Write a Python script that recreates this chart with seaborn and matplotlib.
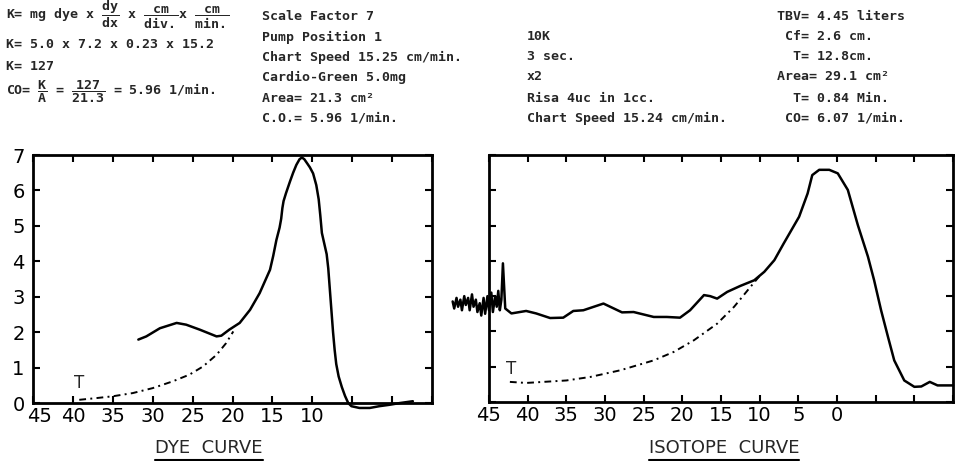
import matplotlib
matplotlib.use("Agg")
import matplotlib.pyplot as plt
from matplotlib.lines import Line2D
from matplotlib.transforms import ScaledTranslation
import pandas as pd
import seaborn as sns

# ---- data ----
dye_x = [31.8, 30.8, 29.1, 27.0, 25.8, 24.1, 22.0, 21.4, 20.4, 19.1, 17.8, 16.6,
         15.3, 14.9, 14.5, 14.1, 13.9, 13.75, 13.6, 13.3, 12.8, 12.4, 12.0, 11.6,
         11.3, 11.0, 10.6, 10.3, 9.9, 9.5, 9.2, 9.0, 8.8, 8.5, 8.2, 8.0, 7.8, 7.6,
         7.4, 7.2, 7.0, 6.7, 6.3, 5.9, 5.5, 5.1, 4.1, 2.8, 1.6, 0.3, -1.0, -2.6]
dye_y = [1.79, 1.88, 2.11, 2.26, 2.21, 2.07, 1.88, 1.90, 2.07, 2.26, 2.63, 3.10,
         3.76, 4.15, 4.60, 4.95, 5.20, 5.50, 5.70, 5.92, 6.25, 6.50, 6.72, 6.88,
         6.93, 6.88, 6.75, 6.65, 6.48, 6.15, 5.75, 5.30, 4.80, 4.50, 4.20, 3.80, 3.20, 2.60,
         2.00, 1.50, 1.10, 0.75, 0.45, 0.20, 0.00, -0.09, -0.14, -0.14, -0.09, -0.05, 0.0, 0.05]
dye_extrap_x = [39.2, 37.0, 35.0, 32.5, 30.0, 27.5, 25.4, 23.7, 22.0, 20.8, 19.9]
dye_extrap_y = [0.09, 0.14, 0.19, 0.28, 0.42, 0.61, 0.80, 1.03, 1.36, 1.69, 2.02]

iso_x = [49.7, 49.5, 49.2, 49.0, 48.7, 48.5, 48.2, 48.0, 47.7, 47.5, 47.2, 47.0,
         46.7, 46.5, 46.2, 46.0, 45.7, 45.5, 45.2, 45.0, 44.7, 44.5, 44.2, 44.0,
         43.8, 43.6, 43.4, 43.2, 42.9, 42.1, 40.2, 38.9, 37.1, 35.4, 34.1, 32.8,
         30.2, 27.8, 26.3, 23.7, 22.0, 20.3, 19.0, 17.2, 16.4, 15.5, 14.2, 12.5,
         10.7, 9.4, 8.1, 6.9, 4.9, 3.8, 3.2, 2.3, 1.0, -0.1, -1.4, -2.7, -4.0,
         -4.8, -5.7, -6.6, -7.4, -8.7, -10.0, -10.9, -12.0, -13.0, -15.0]
iso_y = [2.85, 2.65, 2.95, 2.70, 2.90, 2.60, 3.00, 2.75, 2.95, 2.60, 3.05, 2.70,
         2.90, 2.55, 2.80, 2.45, 2.95, 2.50, 3.00, 2.60, 3.10, 2.55, 3.00, 2.70,
         3.15, 2.60, 2.90, 3.93, 2.65, 2.51, 2.58, 2.51, 2.38, 2.39, 2.58, 2.60,
         2.79, 2.54, 2.55, 2.41, 2.41, 2.39, 2.60, 3.03, 3.00, 2.93, 3.12, 3.29,
         3.45, 3.69, 4.02, 4.49, 5.25, 5.91, 6.43, 6.58, 6.58, 6.48, 6.01, 5.01, 4.12,
         3.45, 2.60, 1.84, 1.18, 0.61, 0.43, 0.44, 0.57, 0.47, 0.47]
iso_extrap_x = [42.3, 40.2, 35.0, 31.9, 28.0, 23.7, 21.1, 18.5, 15.5, 13.3, 11.2, 9.9]
iso_extrap_y = [0.57, 0.54, 0.61, 0.71, 0.90, 1.18, 1.42, 1.75, 2.22, 2.70, 3.26, 3.60]

dye_xticks = [45, 40, 35, 30, 25, 20, 15, 10, 5, 0, -5]
dye_xlabels = ["45", "40", "35", "30", "25", "20", "15", "10", "", "", ""]
iso_xticks = [45, 40, 35, 30, 25, 20, 15, 10, 5, 0, -5, -10, -15]
iso_xlabels = ["45", "40", "35", "30", "25", "20", "15", "10", "5", "0", "", "", ""]
yticks = [0, 1, 2, 3, 4, 5, 6, 7]

header_cols = [
    (6, [(15, r"K= mg dye x $\dfrac{\mathrm{dy}}{\mathrm{dx}}$ x $\dfrac{\mathrm{cm}}{\mathrm{div.}}$x $\dfrac{\mathrm{cm}}{\mathrm{min.}}$"),
         (45, "K= 5.0 x 7.2 x 0.23 x 15.2"),
         (66, "K= 127"),
         (92, r"CO= $\dfrac{\mathrm{K}}{\mathrm{A}}$ = $\dfrac{\mathrm{127}}{\mathrm{21.3}}$ = 5.96 1/min.")]),
    (262, [(17, "Scale Factor 7"), (37, "Pump Position 1"),
           (57, "Chart Speed 15.25 cm/min."), (77, "Cardio-Green 5.0mg"),
           (98, "Area= 21.3 cm²"), (118, "C.O.= 5.96 1/min.")]),
    (527, [(37, "10K"), (57, "3 sec."), (77, "x2"), (98, "Risa 4uc in 1cc."),
           (118, "Chart Speed 15.24 cm/min.")]),
    (777, [(17, "TBV= 4.45 liters"), (37, " Cf= 2.6 cm."), (57, "  T= 12.8cm."),
           (77, "Area= 29.1 cm²"), (98, "  T= 0.84 Min."), (118, " CO= 6.07 1/min.")]),
]

sns.set_theme(style="ticks")
plt.rcParams["font.family"] = ["DejaVu Sans"]
plt.rcParams["mathtext.fontset"] = "custom"
plt.rcParams["mathtext.rm"] = "DejaVu Sans Mono:bold"
plt.rcParams["mathtext.it"] = "DejaVu Sans Mono:bold"
plt.rcParams["mathtext.bf"] = "DejaVu Sans Mono:bold"

W, H = 974, 461
fig = plt.figure(figsize=(W / 100, H / 100), dpi=100)
fig.patch.set_facecolor("white")


def px_axes(left, top, right, bottom):
    return fig.add_axes([left / W, 1 - bottom / H, (right - left) / W, (bottom - top) / H])


ax1 = px_axes(33, 155, 432, 403)
ax2 = px_axes(489, 155, 953, 402)

solid_kw = dict(color="black", linewidth=1.8, sort=False, estimator=None)
dash_kw = dict(color="black", linewidth=1.4, sort=False, estimator=None,
               linestyle=(0, (3.5, 2.2, 1, 2.2)))

sns.lineplot(data=pd.DataFrame({"x": dye_x, "y": dye_y}), x="x", y="y", ax=ax1, **solid_kw)
ax1.lines[-1].set_clip_on(False)
sns.lineplot(data=pd.DataFrame({"x": dye_extrap_x, "y": dye_extrap_y}), x="x", y="y", ax=ax1, **dash_kw)
sns.lineplot(data=pd.DataFrame({"x": iso_x, "y": iso_y}), x="x", y="y", ax=ax2, **solid_kw)
ax2.lines[-1].set_clip_on(False)
sns.lineplot(data=pd.DataFrame({"x": iso_extrap_x, "y": iso_extrap_y}), x="x", y="y", ax=ax2, **dash_kw)

ax1.text(39.2, 0.3, "T", fontsize=12, ha="center", va="bottom")
ax2.text(42.1, 0.68, "T", fontsize=12, ha="center", va="bottom")

for ax, ticks, labels, xlim in [(ax1, dye_xticks, dye_xlabels, (45, -5)),
                                 (ax2, iso_xticks, iso_xlabels, (45, -15))]:
    ax.set_xlim(*xlim)
    ax.set_ylim(0, 7)
    ax.set_xticks(ticks)
    ax.set_xticklabels(labels)
    ax.set_yticks(yticks)
    ax.set_xlabel("")
    ax.set_ylabel("")
    ax.tick_params(direction="in", length=5, width=1.5, top=True, right=True,
                   labelsize=14, pad=3, colors="black")
    for s in ax.spines.values():
        s.set_visible(True)
        s.set_linewidth(2.0)
        s.set_color("black")

ax1.set_yticklabels([str(v) for v in yticks])
ax1.tick_params(axis="y", pad=6)
ax2.set_yticklabels([])

# the "45" of the dye axis sits just right of the corner, clear of the "0"
first = ax1.get_xticklabels()[0]
first.set_transform(first.get_transform() + ScaledTranslation(5 / 72, 0, fig.dpi_scale_trans))

for x0, rows in header_cols:
    for y0, txt in rows:
        fig.text(x0 / W, 1 - y0 / H, txt, fontsize=9.5, family="DejaVu Sans Mono",
                 fontweight="bold", ha="left", va="center")

titles = [fig.text(209 / W, 1 - 448 / H, "DYE  CURVE", fontsize=13, ha="center", va="center"),
          fig.text(724 / W, 1 - 448 / H, "ISOTOPE  CURVE", fontsize=13, ha="center", va="center")]
fig.canvas.draw()
r = fig.canvas.get_renderer()
for t in titles:
    bb = t.get_window_extent(r)
    y = (bb.y0 - 3) / H
    fig.add_artist(Line2D([bb.x0 / W, bb.x1 / W], [y, y], color="black", linewidth=1.5))

fig.savefig("out.png", dpi=100, facecolor="white")
